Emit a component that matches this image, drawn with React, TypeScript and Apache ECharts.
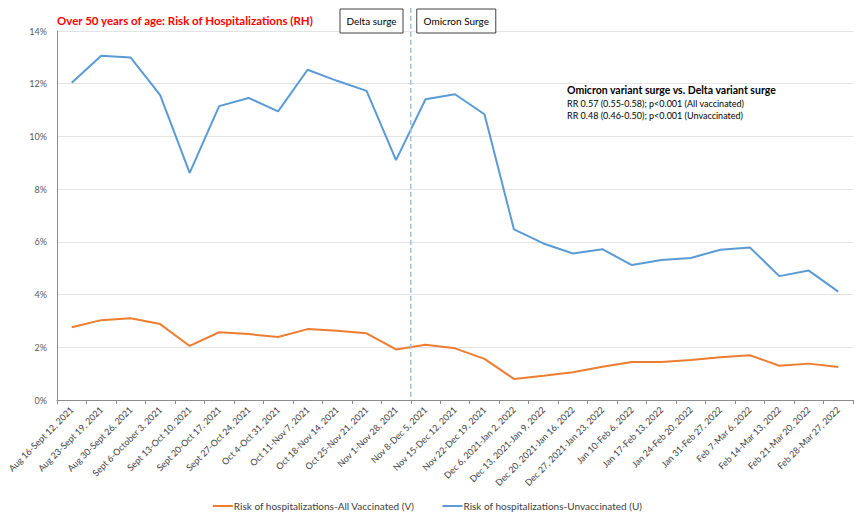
import React, { useEffect, useRef } from "react";
import * as echarts from "echarts";

const categories = [
  "Aug 16-Sept 12, 2021", "Aug 23-Sept 19, 2021", "Aug 30-Sept 26, 2021", "Sept 6-October 3, 2021",
  "Sept 13-Oct 10, 2021", "Sept 20-Oct 17, 2021", "Sept 27-Oct 24, 2021", "Oct 4-Oct 31, 2021",
  "Oct 11-Nov 7, 2021", "Oct 18-Nov 14, 2021", "Oct 25-Nov 21, 2021", "Nov 1-Nov 28, 2021",
  "Nov 8-Dec 5, 2021", "Nov 15-Dec 12, 2021", "Nov 22-Dec 19, 2021", "Dec 6, 2021-Jan 2, 2022",
  "Dec 13, 2021-Jan 9, 2022", "Dec 20, 2021-Jan 16, 2022", "Dec 27, 2021-Jan 23, 2022", "Jan 10-Feb 6, 2022",
  "Jan 17-Feb 13, 2022", "Jan 24-Feb 20, 2022", "Jan 31-Feb 27, 2022", "Feb 7-Mar 6, 2022",
  "Feb 14-Mar 13, 2022", "Feb 21-Mar 20, 2022", "Feb 28-Mar 27, 2022",
];

const vaccinated = [
  2.76, 3.03, 3.1, 2.88, 2.05, 2.57, 2.5, 2.39, 2.69, 2.63, 2.53, 1.92, 2.1, 1.96,
  1.56, 0.8, 0.92, 1.05, 1.26, 1.44, 1.44, 1.52, 1.62, 1.7, 1.3, 1.38, 1.25,
];

const unvaccinated = [
  12.04, 13.06, 12.99, 11.57, 8.62, 11.15, 11.46, 10.95, 12.53, 12.11, 11.73, 9.1, 11.41, 11.6,
  10.84, 6.47, 5.94, 5.56, 5.72, 5.12, 5.31, 5.39, 5.7, 5.79, 4.7, 4.91, 4.11,
];

const seriesNames = ["Risk of hospitalizations-All Vaccinated (V)", "Risk of hospitalizations-Unvaccinated (U)"];
const titleText = "Over 50 years of age: Risk of Hospitalizations (RH)";
const surgeLabels = ["Delta surge", "Omicron Surge"];
const noteLines = [
  "Omicron variant surge vs. Delta variant surge",
  "RR 0.57 (0.55-0.58); p<0.001 (All vaccinated)",
  "RR 0.48 (0.46-0.50); p<0.001 (Unvaccinated)",
];

const FONT = "Lato";

export default function App() {
  const ref = useRef<HTMLDivElement>(null);
  useEffect(() => {
    if (!ref.current) return;
    const chart = echarts.init(ref.current, undefined, { renderer: "svg" });
    chart.setOption({
      animation: false,
      backgroundColor: "#ffffff",
      textStyle: { fontFamily: FONT },
      grid: { left: 57, right: 2, top: 31, bottom: 124, containLabel: false },
      legend: {
        bottom: 8,
        left: "center",
        icon: "rect",
        itemWidth: 20,
        itemHeight: 2,
        itemGap: 28,
        textStyle: { fontFamily: FONT, fontSize: 10, color: "#404040", padding: [0, 0, 0, -4] },
        data: seriesNames,
      },
      xAxis: {
        type: "category",
        data: categories,
        boundaryGap: true,
        axisLine: { lineStyle: { color: "#8c8c8c", width: 1 } },
        axisTick: { show: true, alignWithLabel: false, length: 4, lineStyle: { color: "#8c8c8c" } },
        axisLabel: { rotate: 45, fontSize: 9, color: "#404040", fontFamily: FONT, margin: 8, interval: 0 },
        splitLine: { show: false },
      },
      yAxis: {
        type: "value",
        min: 0,
        max: 14,
        interval: 2,
        axisLine: { show: true, lineStyle: { color: "#8c8c8c" } },
        axisTick: { show: false },
        axisLabel: { formatter: (v: number) => `${v}%`, fontSize: 9, color: "#595959", fontFamily: FONT, margin: 10 },
        splitLine: { lineStyle: { color: "#e3e3e3", width: 1 } },
      },
      series: [
        {
          name: seriesNames[0],
          type: "line",
          data: vaccinated,
          symbol: "none",
          lineStyle: { color: "#ed7d31", width: 2 },
          itemStyle: { color: "#ed7d31" },
        },
        {
          name: seriesNames[1],
          type: "line",
          data: unvaccinated,
          symbol: "none",
          lineStyle: { color: "#5b9bd5", width: 2 },
          itemStyle: { color: "#5b9bd5" },
        },
      ],
    });

    const xa = chart.convertToPixel({ xAxisIndex: 0 }, 11) as number;
    const xb = chart.convertToPixel({ xAxisIndex: 0 }, 12) as number;
    const xDiv = (xa + xb) / 2;
    const y0 = chart.convertToPixel({ yAxisIndex: 0 }, 0) as number;
    const y12 = chart.convertToPixel({ yAxisIndex: 0 }, 12) as number;

    chart.setOption({
      graphic: [
        {
          type: "line",
          shape: { x1: xDiv, y1: 8, x2: xDiv, y2: y0 },
          style: { stroke: "#9dc3e6", lineWidth: 1.5, lineDash: [5, 3] },
          z: 10,
        },
        {
          type: "text",
          x: 57,
          y: 20,
          style: { text: titleText, fill: "#ff0000", font: `bold 11.5px ${FONT}`, verticalAlign: "middle" },
        },
        {
          type: "rect",
          shape: { x: 340, y: 9, width: 63, height: 24 },
          style: { fill: "#ffffff", stroke: "#404040", lineWidth: 1 },
        },
        {
          type: "text",
          x: 371.5,
          y: 21,
          style: { text: surgeLabels[0], fill: "#000000", font: `10px ${FONT}`, align: "center", verticalAlign: "middle" },
        },
        {
          type: "rect",
          shape: { x: xDiv + 6, y: 9, width: 79, height: 24 },
          style: { fill: "#ffffff", stroke: "#404040", lineWidth: 1 },
        },
        {
          type: "text",
          x: xDiv + 45.5,
          y: 21,
          style: { text: surgeLabels[1], fill: "#000000", font: `10px ${FONT}`, align: "center", verticalAlign: "middle" },
        },
        {
          type: "text",
          x: 567,
          y: y12 + 1,
          style: { text: noteLines[0], fill: "#000000", font: `bold 10.5px ${FONT}` },
        },
        {
          type: "text",
          x: 567,
          y: y12 + 14,
          style: { text: noteLines[1] + "\n" + noteLines[2], fill: "#000000", font: `9px ${FONT}`, lineHeight: 12 },
        },
      ],
    });

    return () => chart.dispose();
  }, []);
  return <div ref={ref} style={{ width: 855, height: 524, position: "absolute", left: 0, top: 0 }} />;
}
